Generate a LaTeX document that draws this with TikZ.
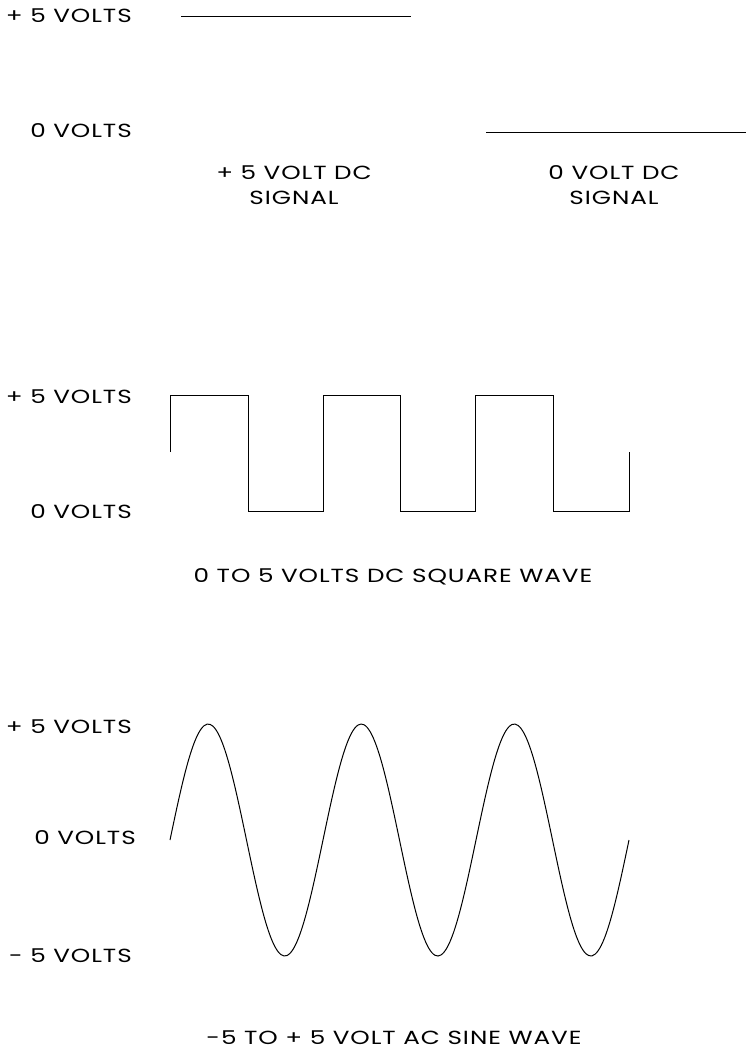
\documentclass[tikz,border=0pt]{standalone}
\usepackage{fontspec}
\setmainfont[FakeStretch=1.3,LetterSpace=5]{Poppins}

\begin{document}
\begin{tikzpicture}[x=1pt,y=-1pt,
        every node/.style={font=\fontsize{19}{25}\selectfont},
        wave/.style={line width=1pt},
        vlabel/.style={anchor=east,inner sep=0pt},
        capt/.style={align=center,inner sep=0pt}]
    \useasboundingbox (0,0) rectangle (746,1050);

    \begin{scope}
        % draw the dc signals
        \node[vlabel] (dcplus) at (132,16) {+ 5 VOLTS};
        \node[vlabel] (dczero) at (132,131) {0 VOLTS};

        % draw the two levels
        \draw[wave] (181,16) -- (411,16);
        \draw[wave] (486,132) -- (746,132);

        % captions under the levels
        \node[capt] (dcpluscap) at (294,185.5) {+ 5 VOLT DC\\SIGNAL};
        \node[capt] (dczerocap) at (614,185) {0 VOLT DC\\SIGNAL};
    \end{scope}

    \begin{scope}
        % draw the square wave
        \node[vlabel] (sqplus) at (132,397) {+ 5 VOLTS};
        \node[vlabel] (sqzero) at (132,512) {0 VOLTS};

        \draw[wave] (170,452) -- (170,395) -- (248,395) -- (248,511)
            -- (323,511) -- (323,395) -- (400,395) -- (400,511)
            -- (475,511) -- (475,395) -- (553,395) -- (553,511)
            -- (629,511) -- (629,452);

        \node (sqcap) at (393,577) {0 TO 5 VOLTS DC SQUARE WAVE};
    \end{scope}

    \begin{scope}
        % draw the sine wave
        \node[vlabel] (acplus) at (132,727) {+ 5 VOLTS};
        \node[vlabel] (aczero) at (136,838) {0 VOLTS};
        \node[vlabel] (acminus) at (132,956) {- 5 VOLTS};

        % three full periods
        \draw[wave,smooth] plot[domain=0:459,samples=150] ({170+\x},{840-116*sin(\x/153*360)});

        \node (accap) at (394,1038) {-5 TO + 5 VOLT AC SINE WAVE};
    \end{scope}
\end{tikzpicture}
\end{document}
